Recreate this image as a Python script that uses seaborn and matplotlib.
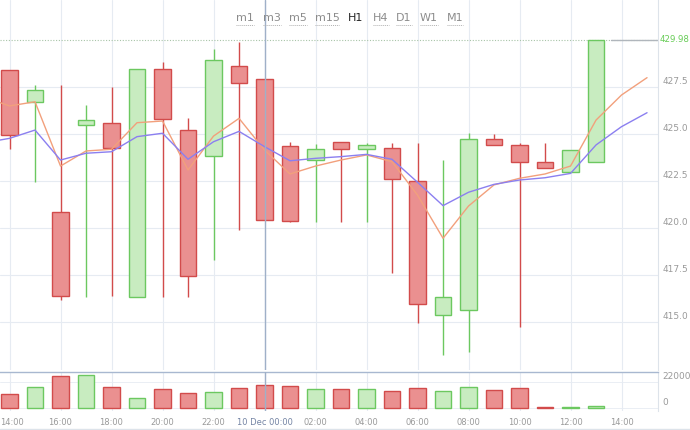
import numpy as np
import pandas as pd
import matplotlib
matplotlib.use("Agg")
import matplotlib.pyplot as plt
import matplotlib.transforms as mtransforms
from matplotlib.lines import Line2D
import seaborn as sns

# ---------------- data ----------------
times = ["14:00", "15:00", "16:00", "17:00", "18:00", "19:00", "20:00", "21:00",
         "22:00", "23:00", "00:00", "01:00", "02:00", "03:00", "04:00", "05:00",
         "06:00", "07:00", "08:00", "09:00", "10:00", "11:00", "12:00", "13:00"]
opens = [428.39, 426.67, 420.87, 425.45, 425.56, 416.36, 428.44, 425.20,
         423.82, 428.61, 427.89, 424.35, 423.61, 424.55, 424.20, 424.23,
         422.50, 415.39, 415.64, 424.73, 424.42, 423.49, 422.99, 423.49]
highs = [428.39, 427.59, 427.59, 426.53, 427.50, 428.44, 428.79, 425.82,
         429.50, 429.89, 427.89, 424.55, 424.44, 424.55, 424.53, 424.53,
         424.53, 423.61, 425.03, 424.98, 424.53, 424.53, 424.14, 429.98]
lows = [424.18, 422.43, 416.18, 416.33, 416.41, 416.36, 416.36, 416.36,
        418.31, 419.90, 420.43, 420.31, 420.34, 420.34, 420.34, 417.60,
        414.95, 413.27, 413.44, 424.42, 414.77, 423.19, 422.99, 423.49]
closes = [424.94, 427.32, 416.41, 425.72, 424.23, 428.44, 425.79, 417.46,
          428.92, 427.68, 420.43, 420.38, 424.19, 424.21, 424.41, 422.59,
          415.96, 416.33, 424.73, 424.42, 423.49, 423.19, 424.14, 429.98]
volumes = [11850, 17770, 26560, 27660, 17260, 7950, 16070, 12180,
           13030, 16670, 19460, 18360, 15570, 15820, 15820, 14380,
           16410, 13870, 17260, 14970, 16920, 850, 600, 1700]

# moving averages: one point before the first candle, two after the last
ma_times = ["13:00"] + times + ["14:00", "15:00"]
ma_fast = [426.95, 426.48, 426.70, 423.29, 424.09, 424.18, 425.59, 425.68, 423.08,
           424.88, 425.82, 424.14, 422.87, 423.29, 423.61, 423.88, 423.52, 421.75,
           419.46, 421.17, 422.29, 422.64, 422.87, 423.29, 425.73, 427.06, 427.98]
ma_slow = [424.52, 424.76, 425.20, 423.61, 423.97, 424.05, 424.85, 425.03, 423.65,
           424.58, 425.13, 424.32, 423.57, 423.70, 423.79, 423.91, 423.65, 422.43,
           421.19, 421.90, 422.32, 422.55, 422.67, 422.90, 424.41, 425.38, 426.12]

price_ticks = [415.0, 417.5, 420.0, 422.5, 425.0, 427.5]
vol_ticks = [0, 22000]
last_price = 429.98
timeframes = ["m1", "m3", "m5", "m15", "H1", "H4", "D1", "W1", "M1"]
active_tf = "H1"
day_label = "10 Dec 00:00"

# ---------------- style ----------------
sns.set_theme(style="white")
plt.rcParams["font.family"] = ["DejaVu Sans"]

RED_FILL, RED_EDGE = "#ea9090", "#d24b4b"
GRN_FILL, GRN_EDGE = "#c8ecc0", "#6cc860"
GRID = "#e6ebf2"
TXT = "#9a9a9a"
ORANGE, PURPLE = "#f2a07c", "#8b7ff0"

W, H = 690, 430
fig = plt.figure(figsize=(W / 100, H / 100), dpi=100)
fig.patch.set_facecolor("white")


def frac(x0, y0, x1, y1):
    return [x0 / W, 1 - y1 / H, (x1 - x0) / W, (y1 - y0) / H]


ax = fig.add_axes(frac(0, 0, 658, 370))
axv = fig.add_axes(frac(0, 371.7, 658, 411), sharex=ax)

idx = np.arange(len(times))
df = pd.DataFrame({"t": times, "o": opens, "h": highs, "l": lows, "c": closes,
                   "v": volumes, "i": idx})
df["up"] = df["c"] >= df["o"]
ma_df = pd.DataFrame({"t": ma_times, "i": np.arange(len(ma_times)) - 1,
                      "fast": ma_fast, "slow": ma_slow})

xmin, xmax = -0.373, 25.43
ax.set_xlim(xmin, xmax)
ax.set_ylim(412.47, 432.1)
axv.set_ylim(-2790, 30456)

# grid
even = idx[::2].tolist() + [24]
for a in (ax, axv):
    for xx in even:
        a.axvline(xx, color=GRID, lw=0.8, zorder=0)
for yy in price_ticks:
    ax.axhline(yy, color=GRID, lw=0.8, zorder=0)

# wicks
wick_cols = [GRN_EDGE if u else RED_EDGE for u in df["up"]]
ax.vlines(df["i"], df["l"], df["h"], colors=wick_cols, lw=1.0, zorder=2)
# bodies
fills = [GRN_FILL if u else RED_FILL for u in df["up"]]
ax.bar(df["i"], df["c"] - df["o"], bottom=df["o"], width=0.63, color=fills,
       edgecolor=wick_cols, linewidth=1.0, zorder=3)

# moving averages
sns.lineplot(data=ma_df, x="i", y="fast", ax=ax, color=ORANGE, lw=1.0, sort=False, zorder=4)
sns.lineplot(data=ma_df, x="i", y="slow", ax=ax, color=PURPLE, lw=1.0, sort=False, zorder=4)

# last price line
ax.axhline(last_price, color="#a8c4a8", lw=0.8, ls=(0, (1, 1.5)), zorder=1)
ax.plot([23.6, xmax], [last_price, last_price], color="#b0b6bc", lw=1.0, zorder=1)

# crosshair
for a in (ax, axv):
    a.axvline(10, color="#9fb0c8", lw=1.0, zorder=5)

# volume bars
axv.bar(df["i"], df["v"], width=0.63, color=fills, edgecolor=wick_cols,
        linewidth=1.0, zorder=3)

# axes cosmetics
for a in (ax, axv):
    a.set_xlabel("")
    a.set_ylabel("")
    for s in ("left", "bottom", "top"):
        a.spines[s].set_visible(False)
    a.spines["right"].set_color("#dde3ea")
    a.spines["right"].set_linewidth(0.8)
axv.spines["top"].set_visible(True)
axv.spines["top"].set_color("#a8b8d0")
axv.spines["top"].set_linewidth(1.0)

ax.tick_params(axis="x", bottom=False, labelbottom=False)
ax.yaxis.tick_right()
ax.set_yticks(price_ticks)
ax.set_yticklabels([f"{v:.1f}" for v in price_ticks])
ax.tick_params(axis="y", length=0, pad=3, labelsize=6.5, labelcolor=TXT)

axv.yaxis.tick_right()
axv.set_yticks(vol_ticks)
axv.set_yticklabels([str(v) for v in vol_ticks])
axv.tick_params(axis="y", length=0, pad=3, labelsize=6.5, labelcolor=TXT)
axv.yaxis.grid(True, color=GRID, lw=0.6)

shift = mtransforms.ScaledTranslation(0, 6.5 / 100, fig.dpi_scale_trans)
for lab in ax.get_yticklabels() + axv.get_yticklabels():
    lab.set_transform(lab.get_transform() + shift)

xt = even
xl = []
for k in xt:
    t = times[k] if k < len(times) else ma_times[k + 1]
    xl.append(day_label if t == "00:00" else t)
axv.set_xticks(xt)
axv.set_xticklabels(xl)
axv.tick_params(axis="x", length=0, pad=5, labelsize=6, labelcolor=TXT)
xlabs = axv.get_xticklabels()
for lab in xlabs:
    if lab.get_text() == day_label:
        lab.set_color("#7484a4")
xlabs[0].set_transform(xlabs[0].get_transform() +
                       mtransforms.ScaledTranslation(2.5 / 100, 0, fig.dpi_scale_trans))

# last price label
lp = ax.text(1.0, last_price, f"{last_price:.2f}", transform=ax.get_yaxis_transform(),
             color="#66cc55", fontsize=6.2, va="center", ha="left")
lp.set_transform(lp.get_transform() + mtransforms.ScaledTranslation(2 / 100, 0, fig.dpi_scale_trans))

# timeframe selector
tf_x = [245, 272, 298, 327, 356, 381, 404, 428.6, 455]
tf_texts = []
for name, px in zip(timeframes, tf_x):
    t = fig.text(px / W, 1 - 18 / H, name, ha="center", va="center", fontsize=8,
                 color="#222222" if name == active_tf else "#8c8c8c")
    tf_texts.append(t)
fig.canvas.draw()
rend = fig.canvas.get_renderer()
for t in tf_texts:
    if t.get_text() == active_tf:
        continue
    bb = t.get_window_extent(rend)
    fig.add_artist(Line2D([bb.x0 / W, bb.x1 / W], [1 - 25 / H, 1 - 25 / H],
                          transform=fig.transFigure, color="#b0b0b0", lw=0.7,
                          ls=(0, (1, 1))))

# bottom border line
fig.add_artist(Line2D([0, 1], [1 - 428.5 / H, 1 - 428.5 / H], transform=fig.transFigure,
                      color="#dde3ea", lw=1.0))

fig.savefig("out.png", dpi=100)
